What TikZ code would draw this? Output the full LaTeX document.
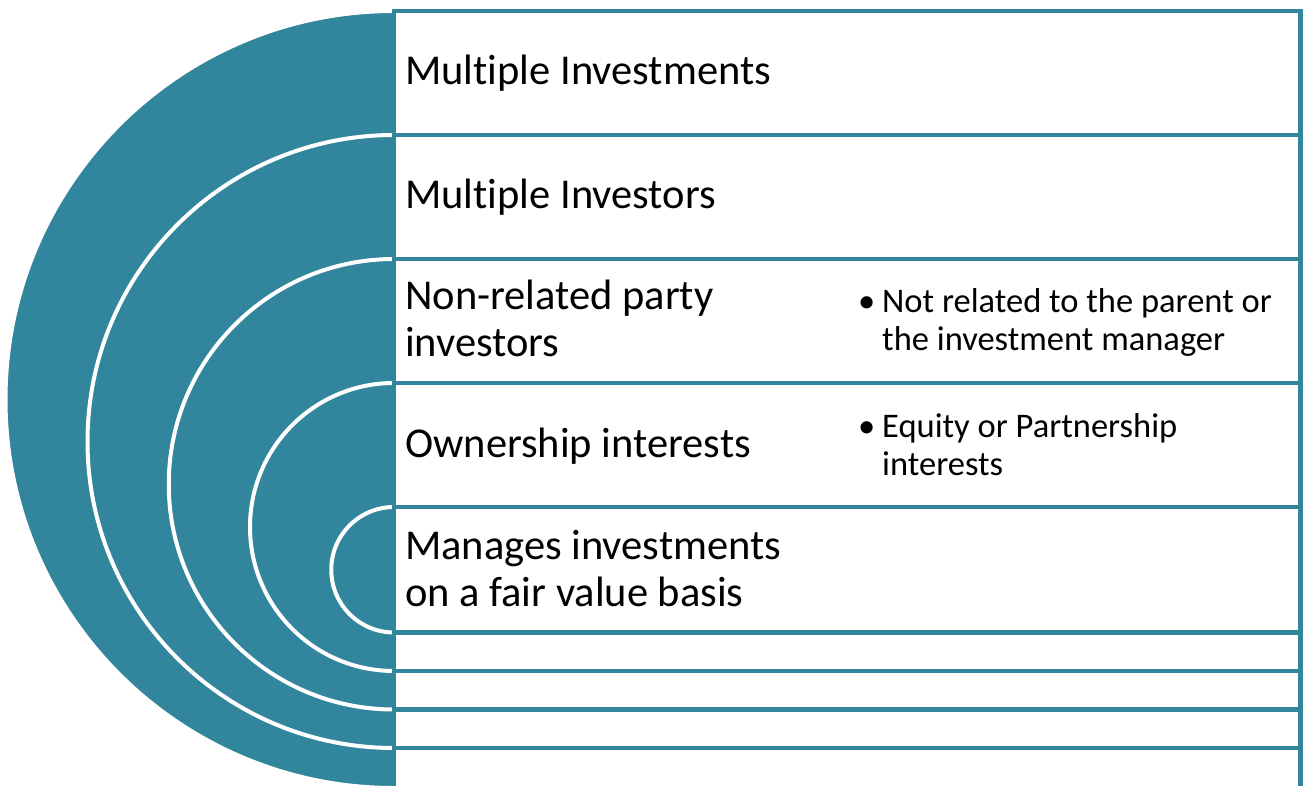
\documentclass[tikz,border=0pt]{standalone}
\usepackage{fontspec}
\setmainfont{Carlito}[Ligatures=NoCommon]
\definecolor{teal}{HTML}{31859C}
\tikzset{
  halfdisc/.style={fill=teal, draw=white, line width=4pt},
  panel/.style={fill=white, draw=teal, line width=4.3pt},
  title/.style={anchor=base west, inner sep=0pt, font=\fontsize{42.5}{47}\selectfont},
  note/.style={anchor=base west, inner sep=0pt, font=\fontsize{34.5}{38}\selectfont},
}
\newcommand{\twolines}[2]{\begin{tabular}[t]{@{}l@{}}#1\\#2\end{tabular}}
\newcommand{\bulletlines}[2]{\begin{tabular}[t]{@{}l@{}l@{}}\makebox[24pt][l]{\textbullet}&#1\\&#2\end{tabular}}
\begin{document}
\begin{tikzpicture}[x=1pt, y=-1pt]
\useasboundingbox (0,0) rectangle (1307,786);
% nested half discs with their panels (top, bottom of each level)
\foreach \t/\b in {11/788, 135/748, 259/709.5, 383/671, 507/632.5}{
  \pgfmathsetmacro{\r}{(\b-\t)/2}
  \draw[halfdisc] (394,\t) arc[start angle=270, end angle=90, radius=\r] -- cycle;
  \draw[panel] (394,\t) rectangle (1300.5,\b);
}
% level titles
\node[title] (l1) at (405,85) {Multiple Investments};
\node[title] (l2) at (405,209) {Multiple Investors};
\node[title] (l3) at (405,310) {\twolines{Non-related party}{investors}};
\node[title] (l4) at (405,457) {Ownership interests};
\node[title] (l5) at (405,559) {\twolines{Manages investments}{on a fair value basis}};
% level notes
\node[note] (n3) at (858,313) {\bulletlines{Not related to the parent or}{the investment manager}};
\node[note] (n4) at (858,437) {\bulletlines{Equity or Partnership}{interests}};
\end{tikzpicture}
\end{document}
